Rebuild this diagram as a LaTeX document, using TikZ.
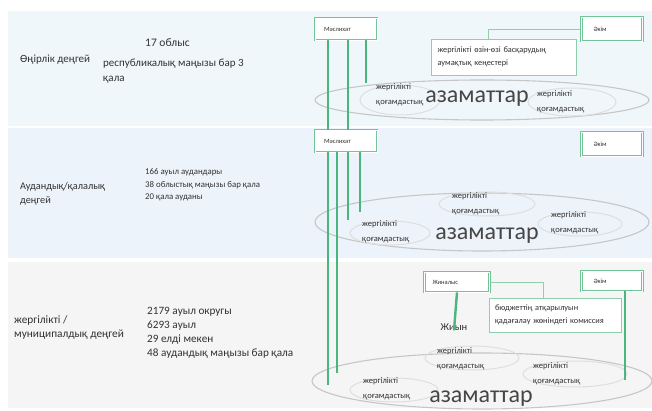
\documentclass[tikz,border=0pt]{standalone}
\usepackage{fontspec}
\setmainfont{Carlito}
\definecolor{linegreen}{RGB}{72,182,125}
\definecolor{boxgreen}{RGB}{112,196,150}
\definecolor{bandtop}{RGB}{240,247,250}
\definecolor{bandmid}{RGB}{237,243,250}
\definecolor{bandlow}{RGB}{245,245,245}
\definecolor{ringgrey}{RGB}{198,198,198}
\definecolor{bubblegrey}{RGB}{222,222,222}
\definecolor{txtgrey}{RGB}{50,50,50}
\begin{document}
\begin{tikzpicture}[x=1pt,y=-1pt,
    lvl/.style={anchor=west, align=left, inner sep=0pt, text=txtgrey},
    organ/.style={draw=boxgreen, line width=0.8pt, double=white, double distance=0.8pt,
      fill=white, align=left, inner ysep=0pt, font=\fontsize{6.5}{7}\selectfont, text=txtgrey},
    note/.style={draw=boxgreen!80, line width=0.6pt, fill=white, align=left,
      inner xsep=6pt, font=\fontsize{8.3}{13.5}\selectfont, text=txtgrey},
    vline/.style={draw=linegreen, line width=2.4pt},
    thinlink/.style={draw=boxgreen!80, line width=0.6pt},
    ring/.style={draw=ringgrey, line width=1.1pt},
    bubble/.style={draw=bubblegrey, line width=1pt},
    comm/.style={anchor=west, align=left, inner sep=0pt, text=txtgrey, font=\fontsize{8.5}{15}\selectfont},
    citizens/.style={inner sep=0pt, text=txtgrey!90, font=\fontsize{24}{24}\selectfont}]
  \useasboundingbox (0,0) rectangle (652,411);

  % three level bands
  \fill[bandtop] (8,11) rectangle (652,126);
  \fill[bandmid] (8,128) rectangle (652,258);
  \fill[bandlow] (8,262) rectangle (652,408);

  % level names and counts
  \node[lvl, font=\fontsize{11}{15}\selectfont] (reg) at (20,60) {Өңірлік деңгей};
  \node[lvl, font=\fontsize{11.5}{15}\selectfont] (oblys) at (145,43) {17 облыс};
  \node[lvl, font=\fontsize{11}{15}\selectfont] (respq) at (103,71) {республикалық маңызы бар 3\\қала};
  \node[lvl, font=\fontsize{10.3}{14}\selectfont] (aud) at (20,194) {Аудандық/қалалық\\деңгей};
  \node[lvl, font=\fontsize{8.8}{12.5}\selectfont] (audlist) at (145,185) {166 ауыл аудандары\\38 облыстық маңызы бар қала\\20 қала ауданы};
  \node[lvl, font=\fontsize{11.3}{14}\selectfont] (mun) at (14,328) {жергілікті /\\муниципалдық деңгей};
  \node[lvl, font=\fontsize{11.2}{14}\selectfont] (munlist) at (147,333) {2179 ауыл округы\\6293 ауыл\\29 елді мекен\\48 аудандық маңызы бар қала};

  % citizens rings
  \draw[ring] (482,100) ellipse [x radius=167, y radius=20];
  \draw[bubble] (400,100) ellipse [x radius=40, y radius=15];
  \draw[bubble] (572,102) ellipse [x radius=44, y radius=14];
  \draw[ring] (482,222) ellipse [x radius=167, y radius=29];
  \draw[bubble] (487,204) ellipse [x radius=48, y radius=12];
  \draw[bubble] (390,233) ellipse [x radius=40, y radius=12];
  \draw[bubble] (580,224) ellipse [x radius=42, y radius=12];
  \draw[ring] (482,381) ellipse [x radius=170, y radius=28];
  \draw[bubble] (472,358) ellipse [x radius=47, y radius=12];
  \draw[bubble] (575,374) ellipse [x radius=52, y radius=13];
  \draw[bubble] (394,390) ellipse [x radius=44, y radius=12];

  % organs
  \node[organ, text width=44pt, inner xsep=9pt, minimum height=22pt] (masl1) at (346,29) {Мәслихат};
  \node[organ, text width=44pt, inner xsep=9pt, minimum height=22pt] (masl2) at (346,141) {Мәслихат};
  \node[organ, text width=37pt, inner xsep=12pt, minimum height=24pt] (akim1) at (612,29) {Әкім};
  \node[organ, text width=37pt, inner xsep=12pt, minimum height=24pt] (akim2) at (612,144) {Әкім};
  \node[organ, text width=49pt, inner xsep=8pt, minimum height=20pt] (zhin) at (457,282) {Жиналыс};
  \node[organ, text width=37pt, inner xsep=12pt, minimum height=20pt] (akim3) at (612,281) {Әкім};
  \node[note, text width=133pt, minimum height=36pt] (council) at (504,57) {жергілікті өзін-өзі басқарудың\\аумақтық кеңестері};
  \node[note, text width=120pt, minimum height=34pt] (budget) at (555,315) {бюджеттің атқарылуын\\қадағалау жөніндегі комиссия};
  \node[inner sep=0pt, text=txtgrey, font=\fontsize{10.5}{11}\selectfont] (zhiyn) at (454,327) {Жиын};

  % local communities
  \node[comm] (lc1) at (376,95) {жергілікті\\қоғамдастық};
  \node[comm] (lc2) at (537,102) {жергілікті\\қоғамдастық};
  \node[comm] (lc3) at (452,204) {жергілікті\\қоғамдастық};
  \node[comm] (lc4) at (362,232) {жергілікті\\қоғамдастық};
  \node[comm] (lc5) at (551,223) {жергілікті\\қоғамдастық};
  \node[comm] (lc6) at (437,359) {жергілікті\\қоғамдастық};
  \node[comm] (lc7) at (533,374) {жергілікті\\қоғамдастық};
  \node[comm] (lc8) at (363,389) {жергілікті\\қоғамдастық};
  \node[citizens] (cit1) at (477,99) {азаматтар};
  \node[citizens] (cit2) at (487,236) {азаматтар};
  \node[citizens] (cit3) at (481,399) {азаматтар};

  % line ends
  \coordinate (t3) at (366,83);
  \coordinate (b1) at (328,385);
  \coordinate (b2) at (337,373);
  \coordinate (m3) at (348,220);
  \coordinate (m4) at (360,212);
  \coordinate (a3) at (625,380);

  % vertical links
  \foreach \dx in {-18,2}
    \draw[vline] ([xshift=\dx pt]masl1.south) -- ([xshift=\dx pt]masl2.north);
  \draw[vline] ([xshift=20pt]masl1.south) -- (t3);
  \foreach \dx/\dest in {-18/b1, -9/b2, 2/m3, 14/m4}
    \draw[vline] ([xshift=\dx pt]masl2.south) -- (\dest);
  \draw[vline] (zhin.south) -- ([yshift=-7pt]zhiyn.north);
  \draw[vline] ([xshift=13pt]akim3.south) -- (a3);

  % thin links
  \draw[thinlink] (akim1.west) -| ([xshift=-16pt]council.north);
  \draw[thinlink] (zhin.east) -| ([xshift=-12pt]budget.north);
\end{tikzpicture}
\end{document}
